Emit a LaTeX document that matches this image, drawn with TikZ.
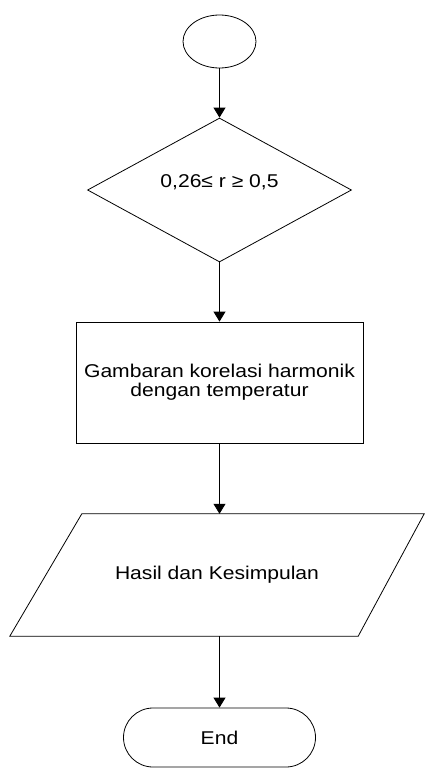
\documentclass[tikz,border=0pt]{standalone}
\usepackage{fontspec}
\setmainfont{Liberation Sans}[FakeStretch=1.14]
\usetikzlibrary{%
  arrows.meta,%
  shapes.geometric%
}
\tikzset{>={Triangle[length=10pt,width=12pt]}}
\tikzset{
  flow/.style={draw,line width=0.8pt,inner sep=0pt},
  link/.style={->,line width=0.8pt}
}

\begin{document}
\begin{tikzpicture}[x=1pt,y=-1pt,font=\fontsize{18.5}{19.3}\selectfont]
    \useasboundingbox (0,0) rectangle (425,768);
    \node[flow,ellipse,minimum width=73pt,minimum height=53pt] (start) at (219.5,41.5) {};
    \node[flow,diamond,minimum width=264pt,minimum height=144pt] (cond) at (219.5,190) {};
    \node (condtext) at (219.5,182) {0,26≤ r ≥ 0,5};
    \node[flow,minimum width=287pt,minimum height=121pt,align=center] (corr) at (219.5,382.5)
    {Gambaran korelasi harmonik\\dengan temperatur};
    \node[inner sep=0pt,minimum width=345pt,minimum height=122pt] (result) at (217,575)
    {Hasil dan Kesimpulan};
    \draw[line width=0.8pt] ([xshift=37.5pt]result.north west) -- ([xshift=34.5pt]result.north east)
    -- ([xshift=-31.5pt]result.south east) -- ([xshift=-34.5pt]result.south west) -- cycle;
    \node[flow,rounded corners=29.5pt,minimum width=192pt,minimum height=59pt] (stop) at (219.5,737.5) {End};
    \draw[link] (start.south) -- (cond.north);
    \draw[link] (cond.south) -- (corr.north);
    \draw[link] (corr.south) -- (corr.south |- result.north);
    \draw[link] (stop.north |- result.south) -- (stop.north);
  \end{tikzpicture}
\end{document}
